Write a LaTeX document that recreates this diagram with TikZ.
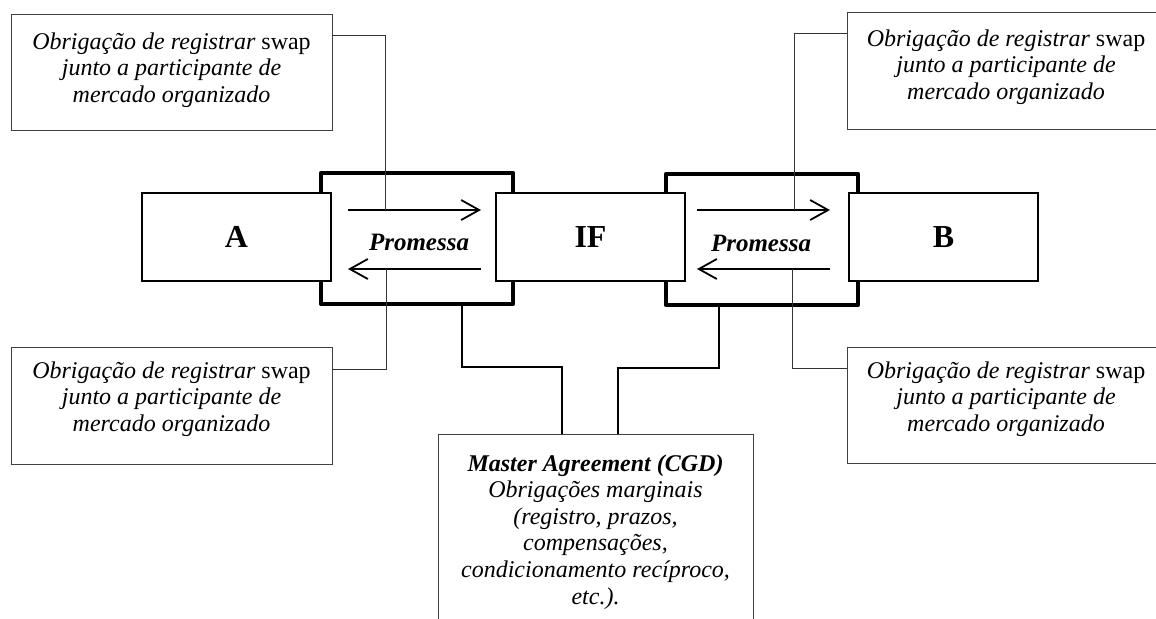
\documentclass[tikz,border=0pt]{standalone}
\usepackage{fontspec}
\setmainfont{Liberation Serif}
\usetikzlibrary{arrows.meta}
\begin{document}
\begin{tikzpicture}[x=0.5pt,y=-0.5pt,
  note/.style={draw=black!75, line width=0.5pt, rectangle, inner sep=0pt, outer sep=0pt, anchor=north west},
  notetext/.style={align=center, inner sep=0pt, anchor=north, font=\fontsize{12}{13.4}\selectfont},
  party/.style={draw, fill=white, line width=1pt, inner sep=0pt, outer sep=0pt, anchor=north west,
    minimum width=94.5pt, minimum height=44pt, font=\fontsize{16}{19}\selectfont\bfseries},
  frame/.style={draw, line width=2.3pt, line join=round, inner sep=0pt, outer sep=0pt, anchor=north west,
    minimum width=96pt, minimum height=65.5pt},
  promise/.style={-{Straight Barb[length=9pt,width=10pt]}, line width=0.9pt},
  promlabel/.style={font=\fontsize{12.5}{14}\selectfont\bfseries\itshape, inner sep=0pt},
  link/.style={draw=black!80, line width=0.5pt},
  mlink/.style={line width=0.9pt},
]
\useasboundingbox (0,0) rectangle (1156,618);
\clip (0,0) rectangle (1156,618);

% frames around the two promises
\node[frame] (fl) at (321,173) {};
\node[frame] (fr) at (666,174) {};

% parties
\node[party] (a)  at (142,193) {A};
\node[party] (if) at (496,193) {IF};
\node[party] (b)  at (849,193) {B};

% promise arrows
\coordinate (l1s) at (348,210); \coordinate (l1e) at (481,210);
\coordinate (l2s) at (481,269); \coordinate (l2e) at (348,269);
\coordinate (r1s) at (697,210); \coordinate (r1e) at (830,210);
\coordinate (r2s) at (830,269); \coordinate (r2e) at (697,269);
\draw[promise] (l1s) -- (l1e);
\draw[promise] (l2s) -- (l2e);
\draw[promise] (r1s) -- (r1e);
\draw[promise] (r2s) -- (r2e);
\node[promlabel] (pl) at (419,242) {Promessa};
\node[promlabel] (pr) at (761,243) {Promessa};

% registration notes
\node[note, minimum width=160.5pt, minimum height=58pt] (tl) at (11,14) {};
\node[note, minimum width=160.5pt, minimum height=58.5pt] (bl) at (11,347) {};
\node[note, minimum width=160.5pt, minimum height=58.5pt] (tr) at (847,12) {};
\node[note, minimum width=160.5pt, minimum height=58pt] (br) at (847,347) {};
\node[notetext] (tlt) at (171.5,32) {\textit{Obrigação de registrar} swap\\\textit{junto a participante de}\\\textit{mercado organizado}};
\node[notetext] (blt) at (171.5,361) {\textit{Obrigação de registrar} swap\\\textit{junto a participante de}\\\textit{mercado organizado}};
\node[notetext] (trt) at (1006,29) {\textit{Obrigação de registrar} swap\\\textit{junto a participante de}\\\textit{mercado organizado}};
\node[notetext] (brt) at (1006,361) {\textit{Obrigação de registrar} swap\\\textit{junto a participante de}\\\textit{mercado organizado}};

% master agreement
\node[note, minimum width=157.5pt, minimum height=110pt] (ma) at (438,434) {};
\node[notetext, font=\fontsize{12}{13.3}\selectfont] (mat) at (595.5,454) {\textbf{\textit{Master Agreement (CGD)}}\\\textit{Obrigações marginais}\\\textit{(registro, prazos,}\\\textit{compensações,}\\\textit{condicionamento recíproco,}\\\textit{etc.).}};

% leaders from the promises to the notes
\coordinate (l1k) at (385,210);
\coordinate (l2k) at (386,269);
\coordinate (r1k) at (794,210);
\coordinate (r2k) at (792,269);
\draw[link] ([yshift=-10.5pt]tl.north east) -| (l1k);
\draw[link] (l2k) |- ([yshift=-11pt]bl.north east);
\draw[link] (r1k) |- ([yshift=-10.5pt]tr.north west);
\draw[link] (r2k) |- ([yshift=-10.5pt]br.north west);

% leaders from the frames to the master agreement
\draw[mlink] ([xshift=70.5pt]fl.south west) -- ++(0,63) -| ([xshift=62pt]ma.north west);
\draw[mlink] ([xshift=26.5pt]fr.south west) -- ++(0,63) -| ([xshift=90pt]ma.north west);
\end{tikzpicture}
\end{document}
